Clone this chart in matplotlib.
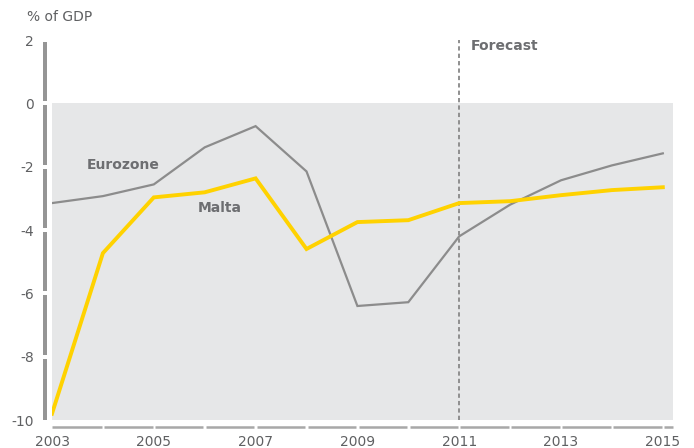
import matplotlib
matplotlib.use("Agg")
import matplotlib.pyplot as plt

# Budget balance, % of GDP
years = [2003, 2004, 2005, 2006, 2007, 2008, 2009, 2010, 2011, 2012, 2013, 2014, 2015]
eurozone = [-3.15, -2.93, -2.56, -1.39, -0.72, -2.15, -6.4, -6.28, -4.2, -3.2, -2.43, -1.96, -1.58]
malta = [-9.8, -4.73, -2.97, -2.81, -2.37, -4.6, -3.75, -3.69, -3.15, -3.09, -2.9, -2.74, -2.65]
xtick_years = [2003, 2005, 2007, 2009, 2011, 2013, 2015]
yticks = [-10, -8, -6, -4, -2, 0, 2]
forecast_year = 2011

TEXT = "#5f6062"
LABEL = "#6d6e71"
AXIS_BAR = "#959595"
SHADE = "#e6e7e8"
GREY_LINE = "#8c8c8c"
YELLOW = "#ffd200"

plt.rcParams["font.family"] = ["DejaVu Sans"]

fig = plt.figure(figsize=(6.94, 4.48), dpi=100)
ax = fig.add_axes([52 / 694, 1 - 420 / 448, 621 / 694, 380 / 448])
ax.set_xlim(2003, 2015.2)
ax.set_ylim(-10, 2)

# shaded negative region
ax.axhspan(-10, 0, color=SHADE, zorder=0, lw=0)

# forecast divider
ax.plot([forecast_year, forecast_year], [-10, 2], color="#8f8f8f", lw=1.4,
        ls=(0, (2.2, 1.6)), zorder=2, clip_on=False)
ax.text(forecast_year + 0.22, 1.8, "Forecast", color=LABEL, fontsize=10,
        fontweight="bold", va="center", ha="left")

ax.plot(years, eurozone, color=GREY_LINE, lw=1.6, zorder=3, solid_joinstyle="miter")
ax.plot(years, malta, color=YELLOW, lw=2.8, zorder=4, solid_joinstyle="miter")

ax.text(2004.4, -1.95, "Eurozone", color=LABEL, fontsize=10, fontweight="bold",
        ha="center", va="center")
ax.text(2006.3, -3.3, "Malta", color=LABEL, fontsize=10, fontweight="bold",
        ha="center", va="center")

for s in ax.spines.values():
    s.set_visible(False)

# segmented y axis bar
ytr = ax.get_yaxis_transform()
gap = 0.06
for lo, hi in zip(yticks[:-1], yticks[1:]):
    ax.plot([-0.0105, -0.0105], [lo + (gap if lo != -10 else 0), hi - gap],
            color=AXIS_BAR, lw=2.6, transform=ytr, clip_on=False,
            solid_capstyle="butt", antialiased=False)

# segmented x axis bar
xtr = ax.get_xaxis_transform()
xgap = 0.025
edges = years + [2015.2]
for lo, hi in zip(edges[:-1], edges[1:]):
    ax.plot([lo + (xgap if lo != 2003 else 0), hi - (xgap if hi != 2015.2 else 0)],
            [-0.0184, -0.0184], color="#a8a8a8", lw=1.8, transform=xtr,
            clip_on=False, solid_capstyle="butt")

ax.set_xticks(xtick_years)
ax.set_xticklabels([str(y) for y in xtick_years])
ax.set_yticks(yticks)
ax.set_yticklabels([str(v) for v in yticks])
ax.tick_params(axis="both", length=0, labelcolor=TEXT, labelsize=10)
ax.tick_params(axis="x", pad=11)
ax.tick_params(axis="y", pad=13)
ax.grid(False)

fig.text(27 / 694, 1 - 17 / 448, "% of GDP", color=TEXT, fontsize=10,
         ha="left", va="center")

fig.savefig("out.png", dpi=100, facecolor="white")
